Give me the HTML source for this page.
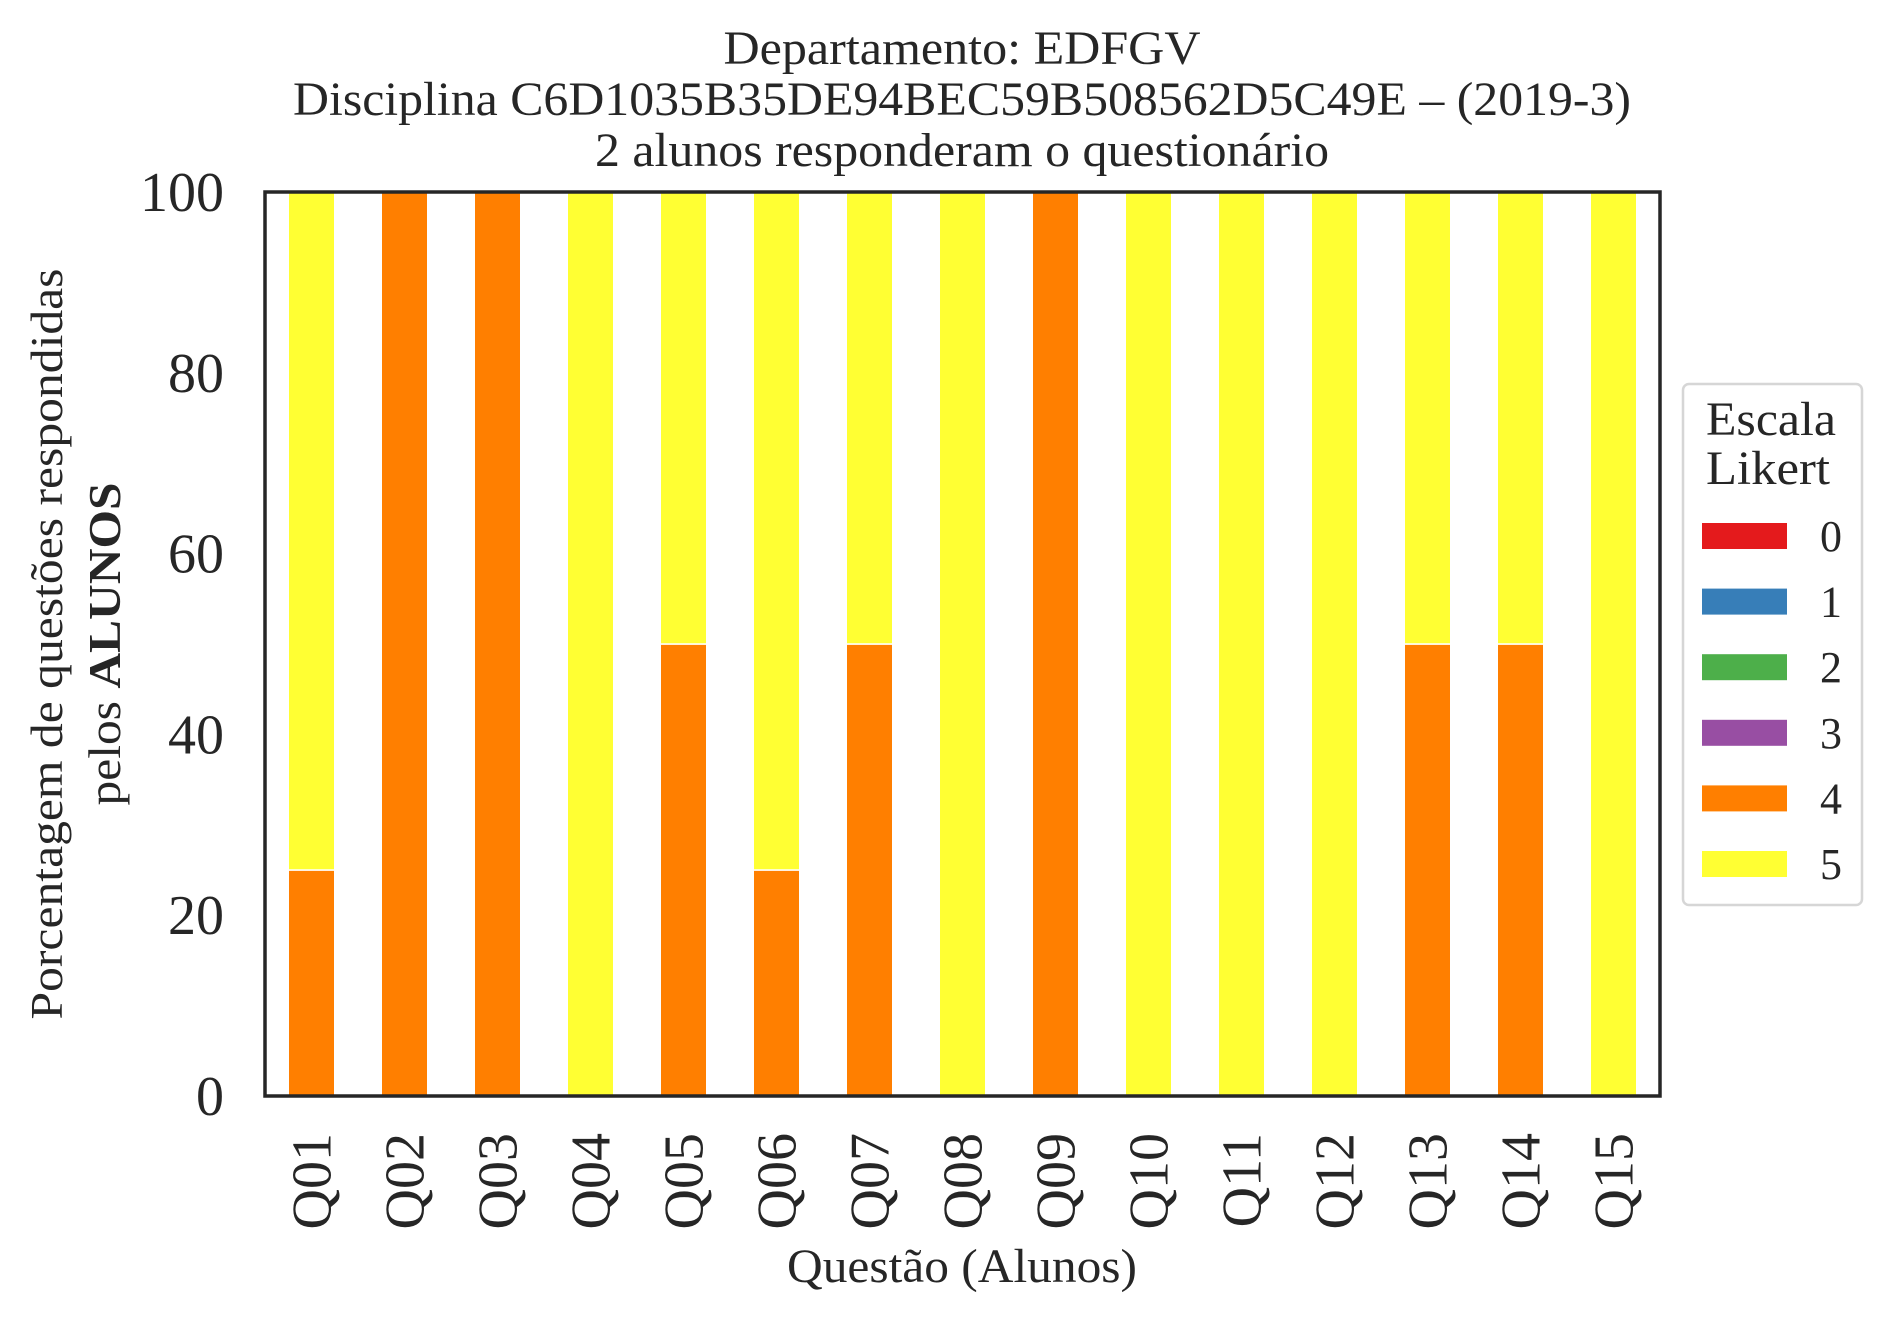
<!DOCTYPE html>
<html><head><meta charset="utf-8"><style>
html,body{margin:0;padding:0;background:#fff;}
svg{display:block;font-family:"Liberation Serif",serif;}
</style></head><body>
<svg id="chart" width="1892" height="1323" viewBox="0 0 1892 1323">
<g fill="#262626" font-size="48" text-anchor="middle">
<text x="962" y="64" textLength="477" lengthAdjust="spacingAndGlyphs">Departamento: EDFGV</text>
<text x="962" y="115" textLength="1338" lengthAdjust="spacingAndGlyphs">Disciplina C6D1035B35DE94BEC59B508562D5C49E – (2019-3)</text>
<text x="962" y="166" textLength="734" lengthAdjust="spacingAndGlyphs">2 alunos responderam o questionário</text>
</g>
<g id="bars"></g>
<g id="yticks"></g>
<g id="xticks"></g>
<rect x="265" y="192" width="1395" height="904" fill="none" stroke="#262626" stroke-width="3.5"/>
<text x="962" y="1282" font-size="48" text-anchor="middle" textLength="350" lengthAdjust="spacingAndGlyphs" fill="#262626">Questão (Alunos)</text>
<g transform="translate(48,644) rotate(-90)" fill="#262626" font-size="46" text-anchor="middle">
<text x="0" y="14" textLength="751" lengthAdjust="spacingAndGlyphs">Porcentagem de questões respondidas</text>
<text x="0" y="72" textLength="323" lengthAdjust="spacingAndGlyphs">pelos <tspan font-weight="bold">ALUNOS</tspan></text>
</g>
<g>
<rect x="1683" y="384" width="179" height="521" rx="6" fill="#fff" stroke="#d6d6d6" stroke-width="2.5"/>
<text x="1706" y="435" font-size="48" fill="#262626" textLength="130" lengthAdjust="spacingAndGlyphs">Escala</text>
<text x="1706" y="484" font-size="48" fill="#262626" textLength="124" lengthAdjust="spacingAndGlyphs">Likert</text>
<g id="legend-entries"></g>
</g>
</svg>
<script>
const categories=["Q01","Q02","Q03","Q04","Q05","Q06","Q07","Q08","Q09","Q10","Q11","Q12","Q13","Q14","Q15"];
const scaleLevels=["0","1","2","3","4","5"];
const levelColors=["#e41a1c","#377eb8","#4daf4a","#984ea3","#ff7f00","#ffff33"];
const level0=[0,0,0,0,0,0,0,0,0,0,0,0,0,0,0];
const level1=[0,0,0,0,0,0,0,0,0,0,0,0,0,0,0];
const level2=[0,0,0,0,0,0,0,0,0,0,0,0,0,0,0];
const level3=[0,0,0,0,0,0,0,0,0,0,0,0,0,0,0];
const level4=[25,100,100,0,50,25,50,0,100,0,0,0,50,50,0];
const level5=[75,0,0,100,50,75,50,100,0,100,100,100,50,50,100];
const yTicks=[0,20,40,60,80,100];
const series=[level0,level1,level2,level3,level4,level5];
const NS="http://www.w3.org/2000/svg";
const L=265,R=1660,T=192,B=1096;
const band=(R-L)/categories.length;
const xc=i=>L+band*(i+0.5);
const y=v=>B-(v/100)*(B-T);
function mk(tag,attrs,parent){const e=document.createElementNS(NS,tag);for(const k in attrs)e.setAttribute(k,attrs[k]);parent.appendChild(e);return e;}
const gb=document.getElementById('bars');
categories.forEach((c,i)=>{let acc=0;series.forEach((s,k)=>{const v=s[i];if(v<=0)return;
const r=mk('rect',{x:xc(i)-band/4,y:y(acc+v),width:band/2,height:y(acc)-y(acc+v),fill:levelColors[k],stroke:'#fff','stroke-width':1.5},gb);


acc+=v;});});
const gy=document.getElementById('yticks');
yTicks.forEach(t=>{const e=mk('text',{x:224,y:y(t)+19,'font-size':56,'text-anchor':'end',fill:'#262626'},gy);e.textContent=t;

});
const gx=document.getElementById('xticks');
categories.forEach((c,i)=>{const e=mk('text',{transform:`translate(${xc(i)+19},1133) rotate(-90)`,'font-size':56,'text-anchor':'end',fill:'#262626'},gx);e.textContent=c;

});
const gl=document.getElementById('legend-entries');
scaleLevels.forEach((lv,k)=>{const cy=536+k*65.6;
const r=mk('rect',{x:1702,y:cy-13,width:85,height:26,fill:levelColors[k]},gl);


const t=mk('text',{x:1831,y:cy+15,'font-size':44,'text-anchor':'middle',fill:'#262626'},gl);t.textContent=lv;

});
</script>
</body></html>
